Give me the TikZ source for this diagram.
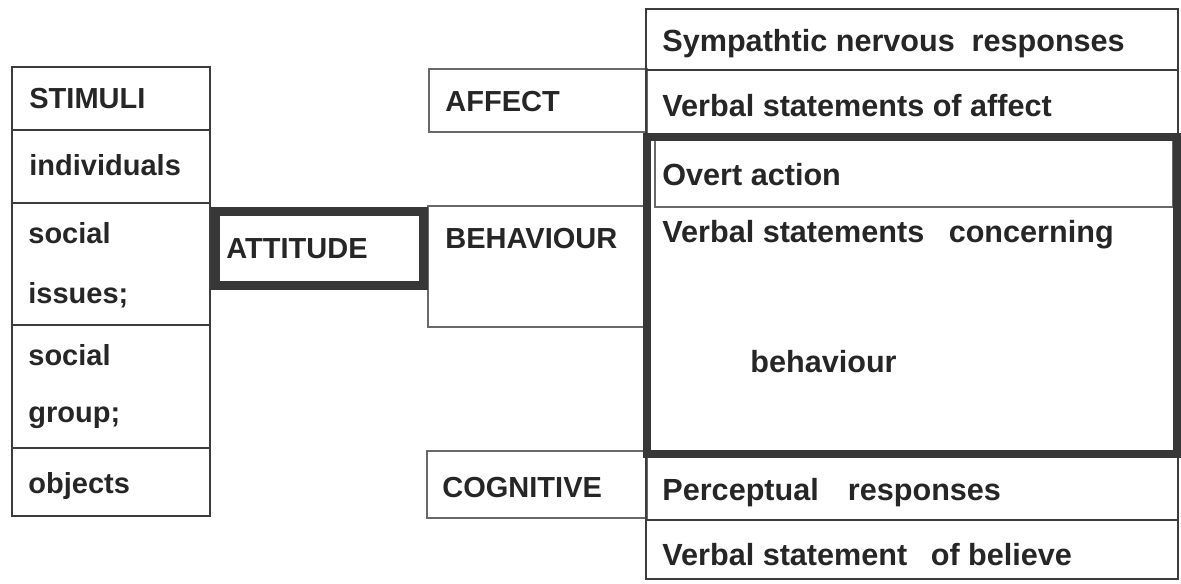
\documentclass[tikz,border=0pt]{standalone}
\usepackage{fontspec}
\setmainfont{Liberation Sans}
\usepackage{xcolor}
\definecolor{scanink}{RGB}{38,38,38}
\definecolor{scanline}{RGB}{60,60,60}
\definecolor{faintline}{RGB}{105,105,105}
\definecolor{thickline}{RGB}{55,55,55}
\usetikzlibrary{calc}
\usetikzlibrary{positioning}
\tikzset{
  celltext/.style={anchor=base west, inner sep=0pt, text=scanink,
    font=\bfseries\fontsize{14.5}{17}\selectfont},
  resptext/.style={celltext, font=\bfseries\fontsize{15.3}{18}\selectfont},
  stimline/.style={draw=scanline, line width=1pt},
  thinline/.style={draw=faintline, line width=0.7pt},
  respline/.style={draw=scanline, line width=0.8pt},
  boldbox/.style={draw=thickline, line width=4.5pt},
}

\begin{document}
\begin{tikzpicture}[x=0.5pt, y=-0.5pt]
  \useasboundingbox (0,0) rectangle (1181,583);

  % Stimuli column:
  \draw [stimline] (12,67) rectangle (210,516);
  \foreach \y in {130,203,325,448} {
    \draw [stimline] (12,\y) -- (210,\y);
  }
  \node [celltext] (stimuli) at (29,109) {STIMULI};
  \node [celltext] (indiv) at (29,175) {individuals};
  \node [celltext] (issues1) at (28,243) {social};
  \node [celltext] (issues2) at (28,303) {issues;};
  \node [celltext] (group1) at (28,365) {social};
  \node [celltext] (group2) at (28,422) {group;};
  \node [celltext] (objects) at (28,493) {objects};

  % Components:
  \draw [thinline] (429,69) rectangle (647,132);
  \draw [thinline] (428,206) rectangle (647,327);
  \draw [thinline] (427,451) rectangle (647,518);
  \node [celltext] (affect) at (445,112) {AFFECT};
  \node [celltext] (behav) at (445,248) {BEHAVIOUR};
  \node [celltext] (cogn) at (442,497) {COGNITIVE};

  % Responses column:
  \draw [respline] (646,9) rectangle (1178,579);
  \draw [respline] (646,70) -- (1178,70);
  \draw [respline] (646,520) -- (1178,520);
  \draw [thinline] (655,141) -- (655,207) -- (1173,207) -- (1173,141);

  % thick boxes
  \draw [boldbox] (215,211) rectangle (423,285);
  \draw [boldbox, line width=4pt] (647,137) rectangle (1177,454);
  \node [celltext] (attitude) at (226,258) {ATTITUDE};

  \node [resptext] (symp) at (662,52) {Sympathtic nervous\hspace{0.55em}responses};
  \node [resptext] (vaffect) at (662,117) {Verbal statements of affect};
  \node [resptext] (overt) at (662,185) {Overt action};
  \node [resptext] (vbehav) at (662,242) {Verbal statements\hspace{0.8em}concerning};
  \node [resptext] (vbehav2) at (750,372) {behaviour};
  \node [resptext] (percept) at (662,500) {Perceptual\hspace{0.95em}responses};
  \node [resptext] (vbelief) at (662,565) {Verbal statement\hspace{0.77em}of believe};
\end{tikzpicture}
\end{document}
